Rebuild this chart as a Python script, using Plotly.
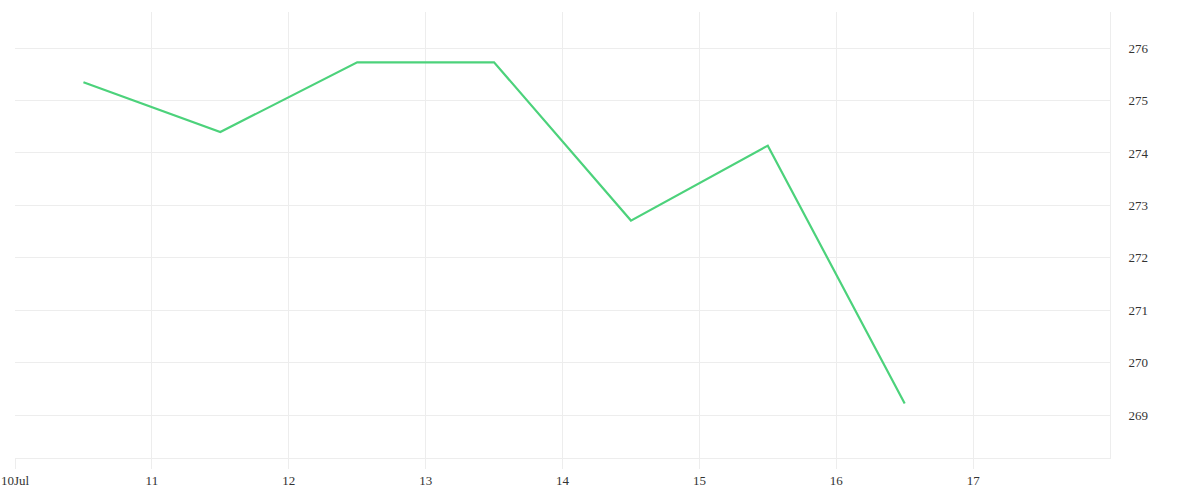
"""Daily price line, right-hand value axis, Jul 10-17."""

import plotly.graph_objects as go

# points sit at midday of each day
DATES = [
    "2024-07-10 12:00",
    "2024-07-11 12:00",
    "2024-07-12 12:00",
    "2024-07-13 12:00",
    "2024-07-14 12:00",
    "2024-07-15 12:00",
    "2024-07-16 12:00",
]
VALUES = [275.35, 274.40, 275.73, 275.73, 272.71, 274.14, 269.22]

TICK_DATES = [f"2024-07-{d}" for d in range(10, 18)]
TICK_LABELS = ["10Jul", "11", "12", "13", "14", "15", "16", "17"]
Y_TICKS = [269, 270, 271, 272, 273, 274, 275, 276]

GRID = "#ededed"
LINE = "#4cd27b"

fig = go.Figure(
    go.Scatter(
        x=DATES,
        y=VALUES,
        mode="lines",
        line={"color": LINE, "width": 2.2},
        hoverinfo="x+y",
    )
)

fig.update_layout(
    width=1200,
    height=500,
    margin={"l": 15, "r": 90, "t": 12, "b": 42},
    plot_bgcolor="white",
    paper_bgcolor="white",
    showlegend=False,
    font={"family": "Liberation Serif, DejaVu Serif, serif", "size": 13, "color": "#333333"},
)
fig.update_xaxes(
    type="date",
    range=["2024-07-10", "2024-07-18"],
    tickvals=TICK_DATES,
    ticktext=TICK_LABELS,
    ticklabeloverflow="allow",
    showgrid=True,
    gridcolor=GRID,
    gridwidth=1,
    showline=True,
    linecolor=GRID,
    linewidth=1,
    ticks="outside",
    ticklen=10,
    tickcolor=GRID,
    zeroline=False,
    automargin=False,
)
fig.update_yaxes(
    side="right",
    range=[268.18, 276.69],
    tickvals=Y_TICKS,
    showgrid=True,
    gridcolor=GRID,
    gridwidth=1,
    showline=True,
    linecolor=GRID,
    linewidth=1,
    ticks="outside",
    ticklen=15,
    tickcolor="rgba(0,0,0,0)",
    zeroline=False,
    automargin=False,
)

# drop the browser's default 8px body margin so the figure sits flush at the corner
fig.write_html(
    "out.html",
    config={"displayModeBar": False},
    post_script="document.body.style.margin = '0';",
)
